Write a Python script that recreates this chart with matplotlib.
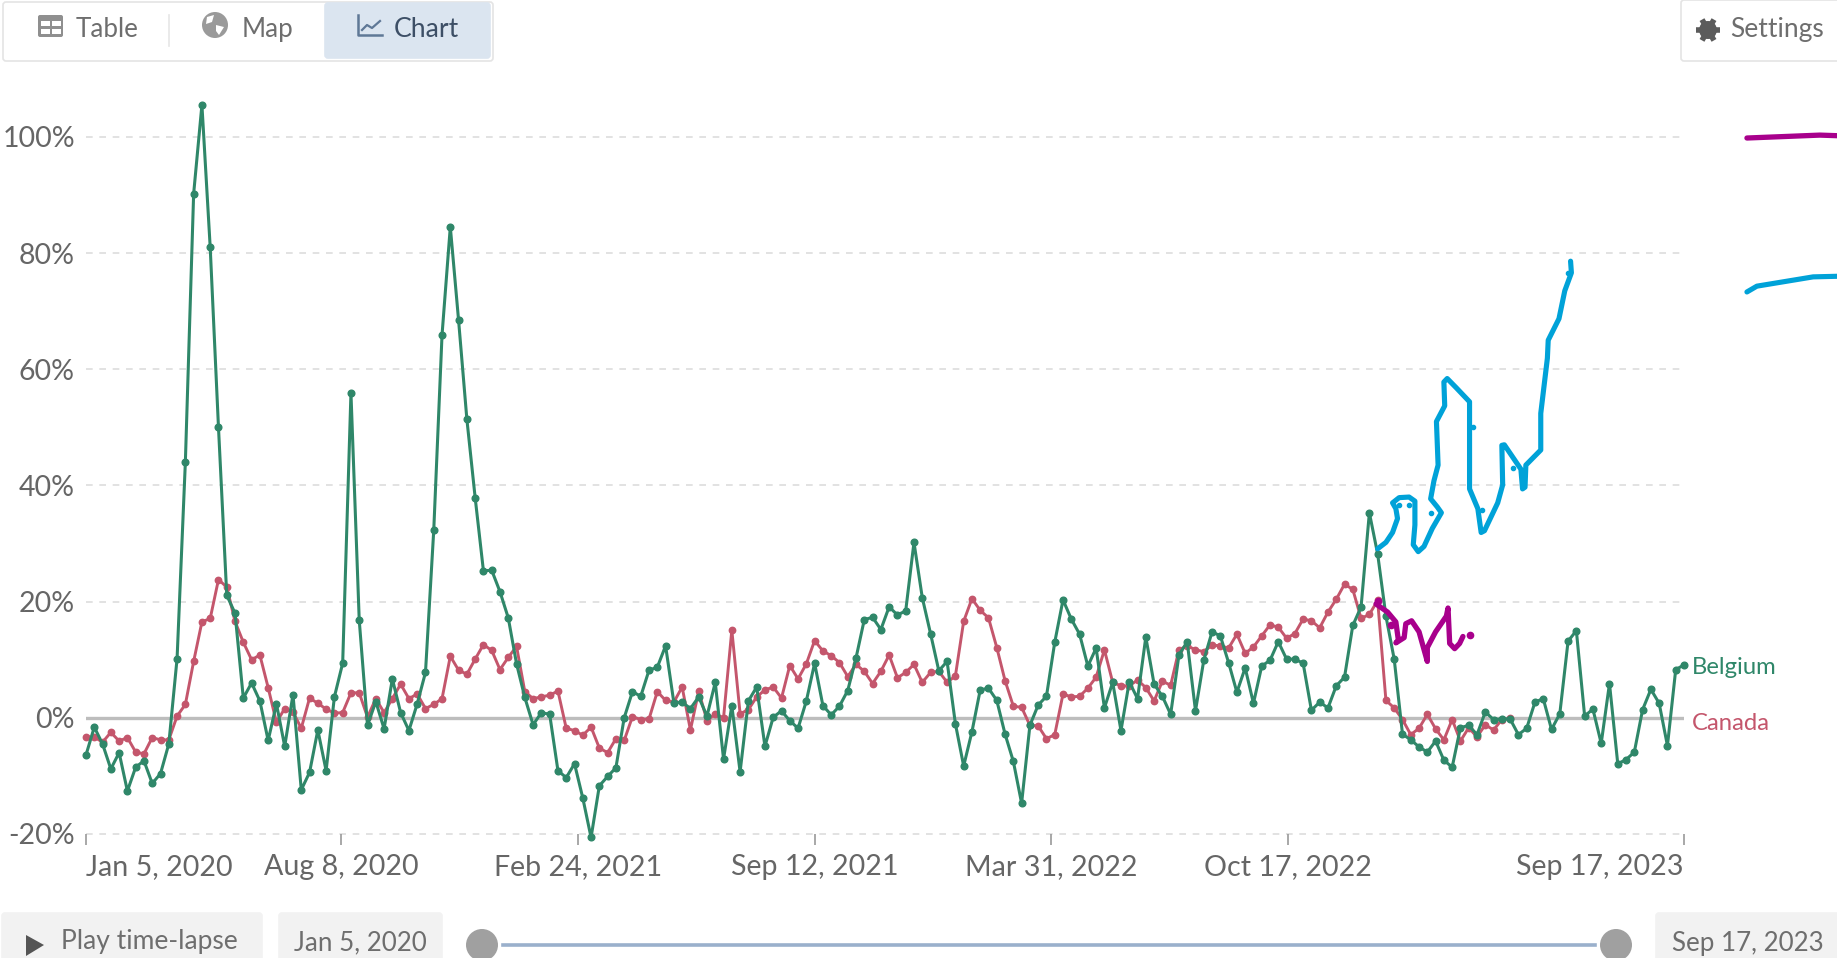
import matplotlib
matplotlib.use('Agg')
import matplotlib.pyplot as plt
import matplotlib.dates as mdates
from matplotlib.patches import FancyBboxPatch, Rectangle, Circle, Polygon
import numpy as np
import pandas as pd

plt.rcParams['font.family'] = ['Lato', 'DejaVu Sans']

belgium = [-6.4, -1.6, -4.5, -8.8, -6.0, -12.6, -8.5, -7.4, -11.3, -9.6,
           -4.5, 10.2, 44.0, 90.2, 105.5, 81.0, 50.0, 21.1, 18.0, 3.4,
           6.0, 2.9, -3.9, 2.4, -4.9, 4.0, -12.4, -9.4, -2.1, -9.1,
           3.6, 9.4, 55.9, 16.8, -1.3, 2.8, -1.9, 6.7, 0.9, -2.2,
           2.4, 7.8, 32.3, 65.9, 84.5, 68.4, 51.4, 37.9, 25.3, 25.4,
           21.7, 17.2, 9.3, 3.5, -1.2, 0.9, 0.6, -9.1, -10.3, -7.9,
           -13.8, -20.6, -11.7, -10.1, -8.6, 0.0, 4.5, 3.7, 8.2, 8.7,
           12.4, 2.6, 2.7, 1.6, 3.6, 0.3, 6.1, -7.1, 2.1, -9.3,
           2.9, 5.3, -4.9, 0.1, 1.2, -0.5, -1.8, 2.9, 9.4, 2.1,
           0.5, 2.0, 4.7, 10.3, 16.9, 17.3, 15.2, 19.1, 17.7, 18.4,
           30.2, 20.7, 14.5, 8.1, 9.7, -1.0, -8.3, -2.4, 4.8, 5.1,
           3.0, -2.8, -7.5, -14.7, -1.3, 2.2, 3.7, 13.0, 20.3, 17.0,
           14.4, 8.9, 12.0, 1.7, 6.1, -2.2, 6.2, 3.3, 13.9, 5.8,
           3.7, 0.6, 10.8, 13.1, 1.2, 9.9, 14.8, 14.1, 9.5, 4.4,
           8.6, 2.5, 8.9, 9.9, 13.1, 10.1, 10.1, 9.4, 1.3, 2.7,
           1.7, 5.5, 7.0, 15.9, 19.1, 35.3, 28.2, 17.5, 10.1, -2.8,
           -3.8, -5.0, -5.9, -4.0, -7.3, -8.5, -1.7, -1.3, -2.9, 1.0,
           -0.3, -0.2, -0.2, -2.9, -1.8, 2.7, 3.3, -2.0, 0.7, 13.2,
           15.0, 0.3, 1.5, -4.4, 5.9, -7.9, -7.2, -5.9, 1.4, 4.9,
           2.5, -4.8, 8.3, 9.1]
canada = [-3.3, -3.3, -4.2, -2.5, -4.0, -3.4, -5.9, -6.2, -3.4, -3.8,
          -3.8, 0.3, 2.3, 9.7, 16.5, 17.1, 23.8, 22.5, 16.6, 13.0,
          10.0, 10.8, 5.2, -0.8, 1.6, 1.0, -1.8, 3.4, 2.5, 1.5,
          0.8, 0.9, 4.3, 4.3, 0.1, 3.3, 0.9, 3.3, 5.8, 3.3,
          4.1, 1.6, 2.3, 3.3, 10.6, 8.2, 7.5, 10.1, 12.6, 11.6,
          8.3, 10.4, 12.3, 4.5, 3.3, 3.6, 3.9, 4.6, -1.8, -2.2,
          -3.0, -1.6, -5.2, -6.0, -3.6, -3.9, 0.2, -0.3, -0.2, 4.5,
          3.0, 2.7, 5.3, -2.1, 4.6, -0.5, 0.7, 0.0, 15.1, 0.7,
          1.4, 3.6, 4.8, 5.3, 3.4, 9.0, 6.7, 9.3, 13.3, 11.5,
          10.7, 9.5, 7.1, 9.2, 8.0, 5.9, 8.0, 10.8, 6.9, 7.8,
          9.2, 6.1, 7.8, 8.0, 6.1, 7.2, 16.6, 20.5, 18.5, 17.2,
          12.1, 6.4, 2.0, 1.8, -1.3, -1.4, -3.6, -2.9, 4.1, 3.6,
          3.7, 5.1, 7.0, 11.7, 6.1, 5.5, 5.5, 6.5, 5.2, 2.9,
          6.3, 5.6, 11.7, 12.4, 11.7, 11.4, 12.5, 12.4, 12.0, 14.4,
          11.1, 12.2, 14.1, 16.0, 15.6, 13.7, 14.5, 17.0, 16.7, 15.5,
          18.2, 20.4, 23.0, 22.1, 17.1, 17.8, 20.2, 3.0, 1.7, -0.3,
          -2.9, -1.8, 0.6, -1.9, -3.8, -0.3, -4.0, -1.7, -3.3, -1.2,
          -2.1, -0.3, -0.1]

y_ticks = [-20, 0, 20, 40, 60, 80, 100]
x_tick_dates = ['2020-01-05', '2020-08-08', '2021-02-24', '2021-09-12',
                '2022-03-31', '2022-10-17', '2023-09-17']
x_tick_labels = ['Jan 5, 2020', 'Aug 8, 2020', 'Feb 24, 2021', 'Sep 12, 2021',
                 'Mar 31, 2022', 'Oct 17, 2022', 'Sep 17, 2023']

# hand drawn marks over the chart, as week number and percent .............
blue_w = [156, 157, 157.8, 158.4, 158.2, 157.8, 158.6, 159.8, 160.5, 160.5,
          160.3, 160.9, 161.6, 162.6, 163.7, 163.2, 162.4, 162.8, 163.3, 163.1,
          164.1, 164.0, 164.4, 165.5, 167.1, 167.1, 168.1, 168.5, 168.9, 170.5,
          171.1, 171.0, 171.3, 173.3, 173.5, 173.8, 173.9, 175.7, 175.7, 176.5,
          176.6, 177.9, 178.6, 179.4, 179.3]
blue_v = [29.1, 30.2, 31.9, 34.3, 36.0, 37.0, 37.9, 38.0, 37.3, 33.2,
          29.8, 28.6, 29.5, 32.6, 35.3, 36.3, 37.7, 40.8, 43.5, 51.0,
          53.7, 57.8, 58.4, 56.8, 54.4, 39.4, 36.0, 31.9, 32.2, 37.0,
          40.1, 46.9, 47.0, 42.8, 39.4, 39.7, 43.5, 46.1, 52.4, 61.9,
          65.0, 68.7, 73.5, 76.6, 78.6]
blue_dot_w = [158.6, 159.8, 162.5, 167.5, 168.6, 172.4, 179.0]
blue_dot_v = [36.7, 36.7, 35.3, 50.0, 35.7, 43.0, 76.6]
blue_key_w = [200.6, 201.8, 208.6, 211.5]
blue_key_v = [73.3, 74.3, 75.9, 76.0]

purple_w = [155.8, 157.2, 158.2, 158.5, 158.2, 159.2, 159.4, 160.1, 161.0, 162.0,
            162.0, 163.0, 164.3, 164.5, 164.7, 165.3, 165.9, 166.3]
purple_v = [19.6, 18.2, 16.5, 13.4, 12.9, 13.8, 16.2, 16.7, 14.8, 9.7,
            12.1, 14.8, 17.5, 18.9, 12.8, 11.9, 12.8, 14.0]
purple_dot_w = [156, 157.6, 167.1]
purple_dot_v = [20.1, 16.0, 14.3]
purple_key_w = [200.6, 209.4, 211.5]
purple_key_v = [99.8, 100.3, 100.2]

GREEN = '#2f8769'
RED = '#c4566c'
BLUE = '#00a2d8'
PURPLE = '#a8008c'
GREY = '#666666'

W, H = 1837, 958
fig = plt.figure(figsize=(W / 100, H / 100), dpi=100)

# plot area in pixels
left, right, top, bottom = 86, 1684, 102, 834
ax = fig.add_axes([left / W, 1 - bottom / H, (right - left) / W, (bottom - top) / H])

dates = pd.date_range('2020-01-05', periods=len(belgium), freq='7D')
t0 = mdates.date2num(dates[0])

def week(w):
    return t0 + np.array(w) * 7

for y in y_ticks:
    if y != 0:
        ax.axhline(y, color='#dddddd', lw=1.2, ls=(0, (4, 4)), zorder=1, clip_on=False)
ax.axhline(0, color='#bdbdbd', lw=2.4, zorder=1)

ax.plot(dates[:len(canada)], canada, color=RED, lw=2.1, marker='o', ms=4.6,
        zorder=3, clip_on=False)
ax.plot(dates, belgium, color=GREEN, lw=2.2, marker='o', ms=4.8,
        zorder=4, clip_on=False)

ax.set_xlim(dates[0], dates[-1])
ax.set_ylim(-20, 106)
for s in ax.spines.values():
    s.set_visible(False)
ax.patch.set_alpha(0)

ax.set_yticks(y_ticks)
ax.set_yticklabels(['%d%%' % y for y in y_ticks], fontsize=20.5, color=GREY)
ax.tick_params(axis='y', length=0, pad=8)
ax.set_xticks(pd.to_datetime(x_tick_dates))
ax.set_xticklabels(x_tick_labels, fontsize=20.6, color=GREY)
ax.tick_params(axis='x', length=8, width=1.2, color='#999999', pad=6.5)
ax.get_xticklabels()[0].set_ha('left')
ax.get_xticklabels()[-1].set_ha('right')

ax.annotate('Belgium', (dates[-1], belgium[-1]), xytext=(6, -1.5), textcoords='offset points',
            color=GREEN, fontsize=17.2, va='center')
ax.annotate('Canada', (dates[-1], -0.6), xytext=(6, -1.5), textcoords='offset points',
            color=RED, fontsize=17.2, va='center')

# pen marks
pen = dict(solid_capstyle='round', solid_joinstyle='round', zorder=6, clip_on=False)
ax.plot(week(blue_w), blue_v, color=BLUE, lw=3.7, **pen)
ax.plot(week(blue_key_w), blue_key_v, color=BLUE, lw=3.7, **pen)
ax.plot(week(blue_dot_w), blue_dot_v, 'o', color=BLUE, ms=3, zorder=6)
ax.plot(week(purple_w), purple_v, color=PURPLE, lw=3.8, **pen)
ax.plot(week(purple_key_w), purple_key_v, color=PURPLE, lw=3.8, **pen)
ax.plot(week(purple_dot_w), purple_dot_v, 'o', color=PURPLE, ms=4.5, zorder=6)

# page controls, drawn in pixels on a second axes .........................
ui = fig.add_axes([0, 0, 1, 1])
ui.set_xlim(0, W)
ui.set_ylim(H, 0)
ui.axis('off')
ui.patch.set_alpha(0)

def box(x0, y0, x1, y1, fc='white', ec='#e4e4e4'):
    ui.add_patch(FancyBboxPatch((x0 + 3, y0 + 3), x1 - x0 - 6, y1 - y0 - 6,
                                boxstyle='round,pad=3', fc=fc, ec=ec, lw=1.2, clip_on=True))

# tabs
box(3, 2, 493, 61)
box(325, 3, 490, 58, fc='#dbe5f0', ec='#dbe5f0')
ui.plot([169, 169], [15, 46], color='#e6e6e6', lw=1.2)
ui.text(76, 29, 'Table', fontsize=18.7, color='#6e6e6e', va='center')
ui.text(242, 29, 'Map', fontsize=18.7, color='#6e6e6e', va='center')
ui.text(394, 29, 'Chart', fontsize=19.2, color='#3d4f66', va='center')

# table icon
ui.add_patch(FancyBboxPatch((40, 17), 21, 18, boxstyle='round,pad=2', fc='#8f8f8f', ec='none'))
for x, y in [(41, 21), (52, 21), (41, 29), (52, 29)]:
    ui.add_patch(Rectangle((x, y), 8.5, 5, fc='white', ec='none'))
# globe icon
ui.add_patch(Circle((215, 25), 13, fc='#9a9a9a', ec='none'))
ui.add_patch(Polygon([[207, 17], [214, 15], [212, 22], [206, 24]], fc='white', ec='none'))
ui.add_patch(Polygon([[216, 25], [224, 27], [219, 35], [216, 31]], fc='white', ec='none'))
# chart icon
ui.plot([358, 358, 382], [15, 35, 35], color='#5f7896', lw=1.8)
ui.plot([362, 367, 372, 380], [30, 25, 28, 21], color='#5f7896', lw=1.6)

# settings
box(1681, 0, 1860, 61)
ui.add_patch(Circle((1708, 30), 9, fc='#5b5b5b', ec='none'))
for a in np.arange(0, 360, 60):
    ui.plot([1708, 1708 + 12 * np.cos(np.radians(a))], [30, 30 + 12 * np.sin(np.radians(a))],
            color='#5b5b5b', lw=4, solid_capstyle='butt')
ui.add_patch(Circle((1708, 30), 4, fc='white', ec='none'))
ui.text(1730, 29, 'Settings', fontsize=19, color='#6e6e6e', va='center')

# time-lapse row
box(2, 913, 262, 975, fc='#f2f2f2', ec='#f2f2f2')
box(279, 913, 442, 975, fc='#f2f2f2', ec='#f2f2f2')
box(1656, 913, 1860, 975, fc='#f2f2f2', ec='#f2f2f2')
ui.add_patch(Polygon([[26, 935], [44, 945], [26, 956]], fc='#555555', ec='none'))
ui.text(61, 941, 'Play time-lapse', fontsize=19, color='#6e6e6e', va='center')
ui.text(294, 943, 'Jan 5, 2020', fontsize=18.7, color='#6e6e6e', va='center')
ui.text(1672, 943, 'Sep 17, 2023', fontsize=18.7, color='#6e6e6e', va='center')
ui.plot([503, 1595], [945, 945], color='#9ab0cc', lw=2.6)
ui.add_patch(Circle((482, 945), 16, fc='#a0a0a0', ec='none'))
ui.add_patch(Circle((1616, 945), 16, fc='#a0a0a0', ec='none'))

fig.savefig('out.png', dpi=100)
